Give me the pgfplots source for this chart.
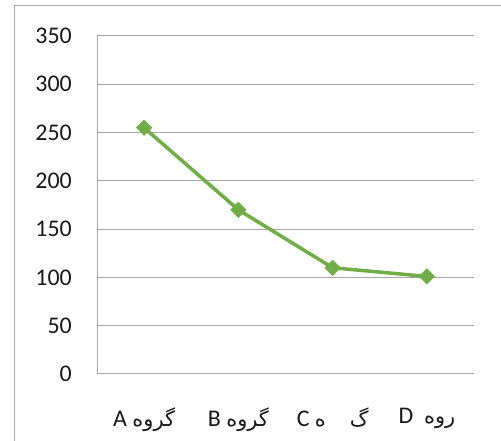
\documentclass[border=0pt]{standalone}
\usepackage{pgfplots}
\pgfplotsset{compat=1.18}
\usepackage{fontspec}
\setmainfont{Carlito}
\newfontfamily\arabicfont[Script=Arabic]{DejaVu Sans}
\TeXXeTstate=1
\definecolor{linegreen}{RGB}{112,173,71}
\definecolor{gridgray}{RGB}{165,165,165}
\newcommand{\fa}[1]{{\arabicfont\fontsize{21}{21}\selectfont #1}}
\begin{document}
\begin{tikzpicture}[x=1bp,y=1bp]
\useasboundingbox (0,0) rectangle (501,441);
% outer chart frame (only left and top visible)
\draw[gridgray, line width=1bp] (14,0) -- (14,435) -- (501,435);
\begin{axis}[
  at={(97bp,67bp)}, anchor=south west,
  scale only axis, width=377bp, height=338bp,
  xmin=-0.5, xmax=3.5, ymin=0, ymax=350,
  ytick={0,50,...,350},
  xtick={0,1,2,3},
  xticklabels={
    {\beginR\fa{گروه} A\endR},
    {\beginR\fa{گروه} B\endR},
    {\beginR\fa{گ}\quad\fa{ه} C\endR},
    {\beginR\fa{روه}\ \ D\endR}},
  axis lines=left,
  axis line style={-, gridgray, line width=1bp},
  ymajorgrids,
  grid style={gridgray, line width=1bp},
  major tick length=0pt,
  tick style={draw=none},
  tick label style={font=\fontsize{24}{24}\selectfont, text=black!90},
  yticklabel style={inner xsep=0pt, xshift=-25bp},
  xticklabel style={inner ysep=0pt, yshift=-34bp},
  /pgf/number format/assume math mode=true,
  clip=false,
]
\addplot[linegreen, line width=3.5bp, line join=round,
  mark=square*, mark size=5.5bp,
  mark options={rotate=45, fill=linegreen, draw=linegreen, line width=0.5bp}]
  coordinates {(0,255)(1,170)(2,110)(3,101)};
\end{axis}
\end{tikzpicture}
\end{document}
